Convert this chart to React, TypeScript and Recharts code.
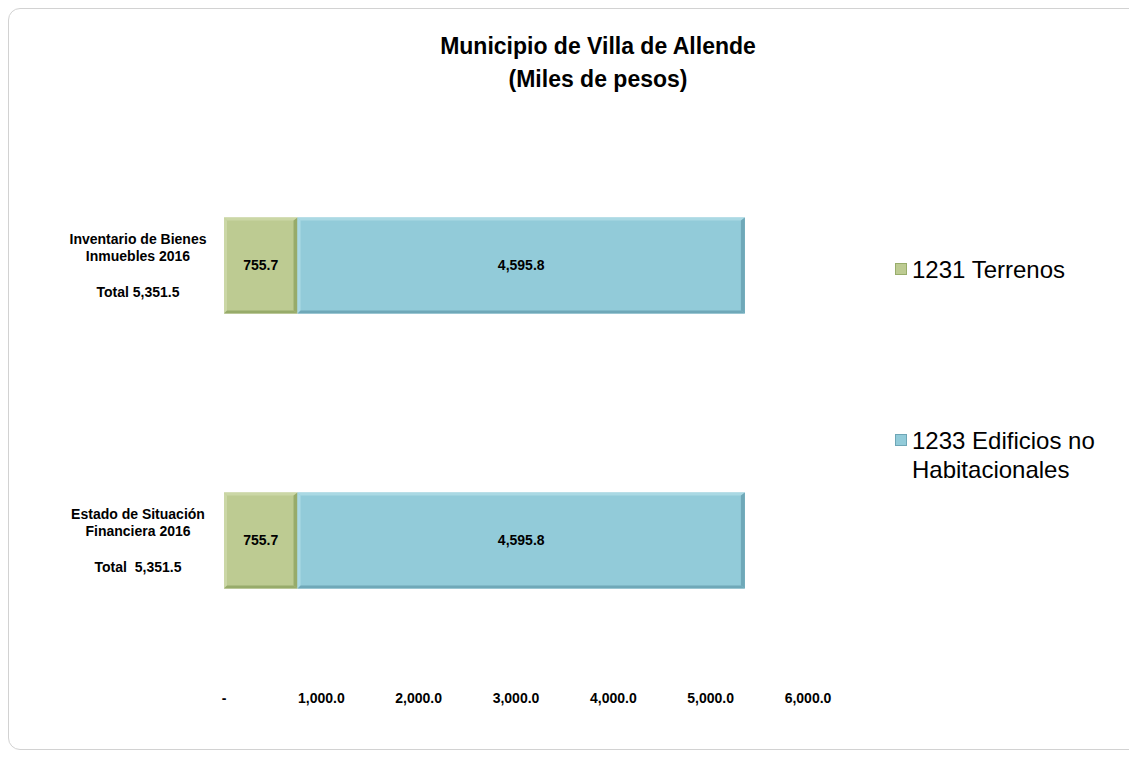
import { BarChart, Bar, XAxis, YAxis, Legend, LabelList } from 'recharts';

const categories = ['Inventario de Bienes Inmuebles 2016', 'Estado de Situación Financiera 2016'];
const categoryLines = [
  ['Inventario de Bienes', 'Inmuebles 2016'],
  ['Estado de Situación', 'Financiera 2016'],
];
const totalLabels = ['Total 5,351.5', 'Total  5,351.5'];
const terrenos = [755.7, 755.7];
const edificios = [4595.8, 4595.8];
const xTicks = [0, 1000, 2000, 3000, 4000, 5000, 6000];
const seriesNames = ['1231 Terrenos', '1233 Edificios no Habitacionales'];
const titleLines = ['Municipio de Villa de Allende', '(Miles de pesos)'];

const data = categories.map((name, i) => ({ name, terrenos: terrenos[i], edificios: edificios[i] }));

const FONT = '"Liberation Sans", Arial, sans-serif';

const fmt = (v: number) =>
  v === 0 ? '-' : v.toLocaleString('en-US', { minimumFractionDigits: 1, maximumFractionDigits: 1 });

function BevelBar(props: any) {
  const { x, y, width, height, fill, light, dark } = props;
  if (!width || !height) return null;
  const b = 3;
  const r = x + width;
  const btm = y + height;
  return (
    <g>
      <rect x={x} y={y} width={width} height={height} fill={fill} />
      <polygon points={`${x},${y} ${r},${y} ${r - b},${y + b} ${x + b},${y + b}`} fill={light} />
      <polygon points={`${x},${y} ${x + b},${y + b} ${x + b},${btm - b} ${x},${btm}`} fill={light} />
      <polygon points={`${r},${y} ${r},${btm} ${r - 4},${btm - b} ${r - 4},${y + b}`} fill={dark} />
      <polygon points={`${x},${btm} ${r},${btm} ${r - 4},${btm - b} ${x + b},${btm - b}`} fill={dark} />
    </g>
  );
}

function CategoryTick({ y, payload }: any) {
  const i = categories.indexOf(payload.value);
  const lines = categoryLines[i] || [];
  return (
    <g>
      <text x={138} y={y - 26} textAnchor="middle" dominantBaseline="central" fontFamily={FONT} fontWeight="bold" fontSize={14} fill="#000">
        {lines[0]}
      </text>
      <text x={138} y={y - 9} textAnchor="middle" dominantBaseline="central" fontFamily={FONT} fontWeight="bold" fontSize={14} fill="#000">
        {lines[1]}
      </text>
      <text x={138} y={y + 27} textAnchor="middle" dominantBaseline="central" fontFamily={FONT} fontWeight="bold" fontSize={14} fill="#000" style={{ whiteSpace: 'pre' }}>
        {totalLabels[i]}
      </text>
    </g>
  );
}

const renderLegend = ({ payload }: any) => (
  <div style={{ fontFamily: FONT, fontSize: 24, color: '#000' }}>
    {(payload || []).map((entry: any, i: number) => (
      <div key={i} style={{ display: 'flex', alignItems: 'flex-start', lineHeight: '29px', marginBottom: i === 0 ? 142 : 0 }}>
        <span
          style={{
            display: 'inline-block',
            width: 10,
            height: 10,
            marginTop: 8,
            marginRight: 5,
            flex: 'none',
            background: entry.color,
            border: `1px solid ${i === 0 ? '#98ad6b' : '#6ea6b6'}`,
          }}
        />
        <span style={{ width: 200 }}>{entry.value}</span>
      </div>
    ))}
  </div>
);

export default function App() {
  return (
    <div style={{ position: 'fixed', left: 0, top: 0, width: 1129, height: 758, overflow: 'hidden', background: '#fff' }}>
      <div
        style={{
          position: 'absolute',
          left: 8,
          top: 8,
          width: 1200,
          height: 742,
          border: '1px solid #d2d2d2',
          borderRadius: 12,
          boxSizing: 'border-box',
        }}
      />
      <div
        style={{
          position: 'absolute',
          left: 398,
          top: 30,
          width: 400,
          textAlign: 'center',
          fontFamily: FONT,
          fontWeight: 'bold',
          fontSize: 23,
          lineHeight: '33px',
          color: '#000',
        }}
      >
        {titleLines.map((t) => (
          <div key={t}>{t}</div>
        ))}
      </div>
      <div style={{ position: 'absolute', left: 0, top: 0 }}>
        <BarChart
          width={1129}
          height={758}
          data={data}
          layout="vertical"
          margin={{ top: 127.5, right: 321, bottom: 50.5, left: 0 }}
          barSize={96}
        >
          <XAxis
            type="number"
            domain={[0, 6000]}
            ticks={xTicks}
            tickFormatter={fmt}
            axisLine={false}
            tickLine={false}
            tickMargin={10}
            interval={0}
            tick={{ fontFamily: FONT, fontWeight: 'bold', fontSize: 14, fill: '#000' }}
          />
          <YAxis
            type="category"
            dataKey="name"
            width={224}
            axisLine={false}
            tickLine={false}
            tick={<CategoryTick />}
          />
          <Legend
            layout="vertical"
            align="center"
            verticalAlign="middle"
            content={renderLegend}
            wrapperStyle={{ left: 895, top: 255, width: 230 }}
          />
          <Bar
            dataKey="terrenos"
            name={seriesNames[0]}
            stackId="a"
            fill="#bdcb92"
            isAnimationActive={false}
            shape={(p: any) => <BevelBar {...p} light="#cbd7a6" dark="#97ab6a" />}
          >
            <LabelList
              dataKey="terrenos"
              position="center"
              formatter={(v: any) => fmt(Number(v))}
              style={{ fontFamily: FONT, fontWeight: 'bold', fontSize: 14, fill: '#000' }}
            />
          </Bar>
          <Bar
            dataKey="edificios"
            name={seriesNames[1]}
            stackId="a"
            fill="#92cbd9"
            isAnimationActive={false}
            shape={(p: any) => <BevelBar {...p} light="#aad9e4" dark="#6fa8b8" />}
          >
            <LabelList
              dataKey="edificios"
              position="center"
              formatter={(v: any) => fmt(Number(v))}
              style={{ fontFamily: FONT, fontWeight: 'bold', fontSize: 14, fill: '#000' }}
            />
          </Bar>
        </BarChart>
      </div>
    </div>
  );
}
